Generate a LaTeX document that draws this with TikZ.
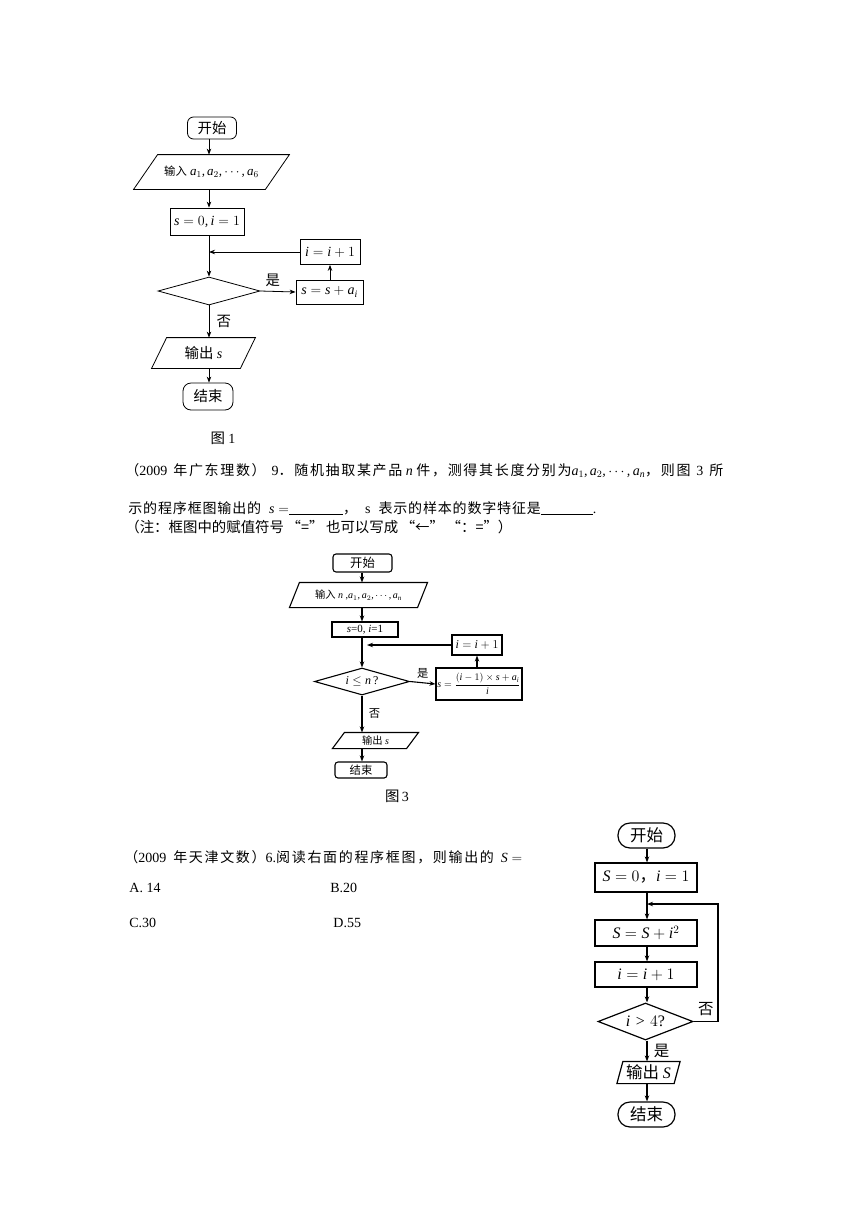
\documentclass[tikz,border=0pt]{standalone}
\usepackage{fix-cm}
\usepackage{fontspec}
\setmainfont{Liberation Serif}
\newfontfamily\cjk[Scale=1.03]{Noto Sans CJK SC}
\newfontfamily\cjkw[LetterSpace=12]{Noto Sans CJK SC}
\newfontfamily\cjkv[LetterSpace=6]{Noto Sans CJK SC}
\DeclareSymbolFont{operators}{TU}{\rmdefault}{m}{n}
\DeclareSymbolFont{letters}{TU}{\rmdefault}{m}{it}
\mathcode`,="612C
\usetikzlibrary{arrows.meta,shapes.geometric}
\newcommand\zh[1]{{\cjk #1}}
\newcommand\zw[1]{{\cjkw #1}}
\newcommand\zv[1]{{\cjkv #1}}
\newcommand\fsz[1]{\fontsize{#1}{#1}\selectfont}
\newcommand\paral[2]{\draw ([xshift=#2]#1.north west) -- (#1.north east) -- ([xshift=-#2]#1.south east) -- (#1.south west) -- cycle;}
\begin{document}
\begin{tikzpicture}[x=1pt,y=-1pt,
  line width=0.8pt,
  arr/.style={-{Stealth[length=6pt,width=4.5pt]}},
  box/.style={draw, inner sep=0pt, align=center},
  term/.style={draw, rounded corners=6pt, inner sep=0pt},
  ghost/.style={inner sep=0pt},
  dia/.style={draw, diamond, inner sep=0pt},
  txt/.style={inner sep=0pt, anchor=base west, font=\fsz{14}},
]
\useasboundingbox (0,0) rectangle (860,1216);

% ---------------- Figure 1 ----------------
\coordinate (c1) at (209,0);
\node[term, minimum width=49pt, minimum height=22pt, font=\fsz{14}] (s1) at (212,128) {\zh{开始}};
\node[ghost, minimum width=155pt, minimum height=34pt, font=\fsz{13}] (in1) at (211.5,172) {\zh{\fsz{11}输入} $a_1,a_2,\cdots,a_6$};
\paral{in1}{24pt}
\node[box, minimum width=74pt, minimum height=27pt, font=\fsz{14}] (init1) at (207,221.5) {$s=0,i=1$};
\node[dia, minimum width=102pt, minimum height=28pt] (d1) at (209,291) {};
\node[box, minimum width=60pt, minimum height=25pt, font=\fsz{14}] (inc1) at (330,252) {$i=i+1$};
\node[box, minimum width=67pt, minimum height=24pt, font=\fsz{14}] (u1) at (329.5,292) {$s=s+a_i$};
\node[ghost, minimum width=103pt, minimum height=30pt, font=\fsz{14}] (out1) at (203.5,353) {\zh{输出} $s$};
\paral{out1}{15pt}
\node[term, rounded corners=8pt, minimum width=50pt, minimum height=27pt, font=\fsz{14}] (e1) at (208,396.5) {\zh{结束}};
\node[ghost, font=\fsz{14}] (f1) at (223,438) {\zh{图} 1};

\draw[arr] (s1.south -| c1) -- (in1.north -| c1);
\draw[arr] (in1.south -| c1) -- (init1.north -| c1);
\draw[arr] (init1.south -| c1) -- (d1.north);
\draw[arr] (inc1.west) -- (inc1.west -| c1);
\draw[arr] (d1.east) -- node[above=1pt, pos=0.35, font=\fsz{14}] {\zh{是}} (u1.west);
\draw[arr] (u1.north -| inc1.south) -- (inc1.south);
\draw[arr] (d1.south) -- node[right=4pt, font=\fsz{14}] {\zh{否}} (d1.south |- out1.north);
\draw[arr] (out1.south -| c1) -- (e1.north -| c1);

% ---------------- Text block 1 ----------------
\node[txt] (l1) at (125,475) {\makebox[598pt][s]{\zw{（}2009 \zw{年广东理数）} 9\zw{．随机抽取某产品}\mbox{ $n$ }\zw{件，测得其长度分别为}\mbox{$a_1,a_2,\cdots,a_n$}\zw{，则图} 3 \zw{所}}};
\node[txt] (l2) at (128,513) {\makebox[468pt][s]{\zv{示的程序框图输出的} \mbox{$s=$}\underline{\hspace{54pt}}\zv{，} s \zv{表示的样本的数字特征是}\underline{\hspace{52pt}}.}};
\node[txt] (l3) at (125,532) {\makebox[387pt][s]{\zh{（注：框图中的赋值符号} \zh{“=”} \zh{也可以写成} \zh{“←”} \zh{“：=”）}}};

% ---------------- Figure 3 ----------------
\begin{scope}[line width=1.1pt]
\coordinate (c3) at (362,0);
\node[term, rounded corners=3pt, minimum width=59pt, minimum height=18pt, font=\fsz{12}] (s3) at (362.5,563) {\zh{开始}};
\node[ghost, minimum width=137pt, minimum height=24pt, font=\fsz{10}] (in3) at (358.5,595) {\zh{输入} $n$ ,$a_1,a_2,\cdots,a_n$};
\paral{in3}{10pt}
\node[box, minimum width=66pt, minimum height=15pt, font=\fsz{11}] (init3) at (365,629.5) {$s$=0, $i$=1};
\node[dia, aspect=3.5, minimum width=95pt, minimum height=27pt, font=\fsz{12}] (d3) at (362,681.5) {$i\le n$\,?};
\node[box, minimum width=50pt, minimum height=20pt, font=\fsz{12}] (inc3) at (477,645) {$i=i+1$};
\node[box, minimum width=86pt, minimum height=32pt, font=\fsz{10}] (u3) at (479,684) {$s=\displaystyle\frac{(i-1)\times s+a_i}{i}$};
\node[ghost, minimum width=85pt, minimum height=15pt, font=\fsz{10}] (out3) at (375.5,740.5) {\zh{输出} $s$};
\paral{out3}{12pt}
\node[term, rounded corners=3pt, minimum width=52pt, minimum height=16pt, font=\fsz{11}] (e3) at (361,770) {\zh{结束}};
\node[ghost, font=\fsz{14}] (f3) at (397,796) {\zh{图}\,3};

\draw[arr] (s3.south -| c3) -- (in3.north -| c3);
\draw[arr] (in3.south -| c3) -- (init3.north -| c3);
\draw[arr] (init3.south -| c3) -- (d3.north);
\draw[arr, shorten >=5pt] (inc3.west) -- (inc3.west -| c3);
\draw[arr] (d3.east) -- node[above=0pt, font=\fsz{11}] {\zh{是}} (u3.west);
\draw[arr] (u3.north -| inc3.south) -- (inc3.south);
\draw[arr] (d3.south) -- node[right=3pt, font=\fsz{11}] {\zh{否}} (d3.south |- out3.north);
\draw[arr] (out3.south -| c3) -- (e3.north -| c3);
\end{scope}

% ---------------- Text block 2 ----------------
\node[txt] (l4) at (124,862) {\makebox[398pt][s]{\zw{（}2009 \zw{年天津文数）}6.\zw{阅读右面的程序框图，则输出的} \mbox{$S=$}}};
\node[txt] (oa) at (129,892) {A. 14};
\node[txt] (ob) at (330,892) {B.20};
\node[txt] (oc) at (129,927) {C.30};
\node[txt] (od) at (333,927) {D.55};

% ---------------- Figure 4 ----------------
\begin{scope}[line width=1.2pt]
\coordinate (c4) at (647,0);
\coordinate (lp4) at (718,904);
\node[term, rounded corners=12pt, minimum width=57pt, minimum height=25pt, font=\fsz{16}] (s4) at (646.5,835.5) {\zh{开始}};
\node[box, minimum width=102pt, minimum height=29pt, font=\fsz{16}] (init4) at (646,877.5) {$S=0$\zh{，}$i=1$};
\node[box, minimum width=102pt, minimum height=26pt, font=\fsz{16}] (u4) at (646,933) {$S=S+i^2$};
\node[box, minimum width=102pt, minimum height=25pt, font=\fsz{16}] (inc4) at (646,974.5) {$i=i+1$};
\node[dia, aspect=2.6, minimum width=95pt, minimum height=37pt, font=\fsz{16}] (d4) at (645.5,1021.5) {$i>4$?};
\node[ghost, minimum width=62pt, minimum height=21pt, font=\fsz{16}] (out4) at (648.5,1072.5) {\zh{输出} $S$};
\paral{out4}{6pt}
\node[term, rounded corners=12pt, minimum width=57pt, minimum height=25pt, font=\fsz{16}] (e4) at (646.5,1114.5) {\zh{结束}};

\draw[arr] (s4.south -| c4) -- (init4.north -| c4);
\draw[arr] (init4.south -| c4) -- (u4.north -| c4);
\draw[arr] (u4.south -| c4) -- (inc4.north -| c4);
\draw[arr] (inc4.south -| c4) -- (d4.north -| c4);
\draw[arr] (d4.east) -- node[above=2pt, font=\fsz{15}] {\zh{否}} (d4.east -| lp4) -- (lp4) -- (lp4 -| c4);
\draw[arr] (d4.south -| c4) -- node[right=3pt, font=\fsz{15}] {\zh{是}} (out4.north -| c4);
\draw[arr] (out4.south -| c4) -- (e4.north -| c4);
\end{scope}
\end{tikzpicture}
\end{document}
